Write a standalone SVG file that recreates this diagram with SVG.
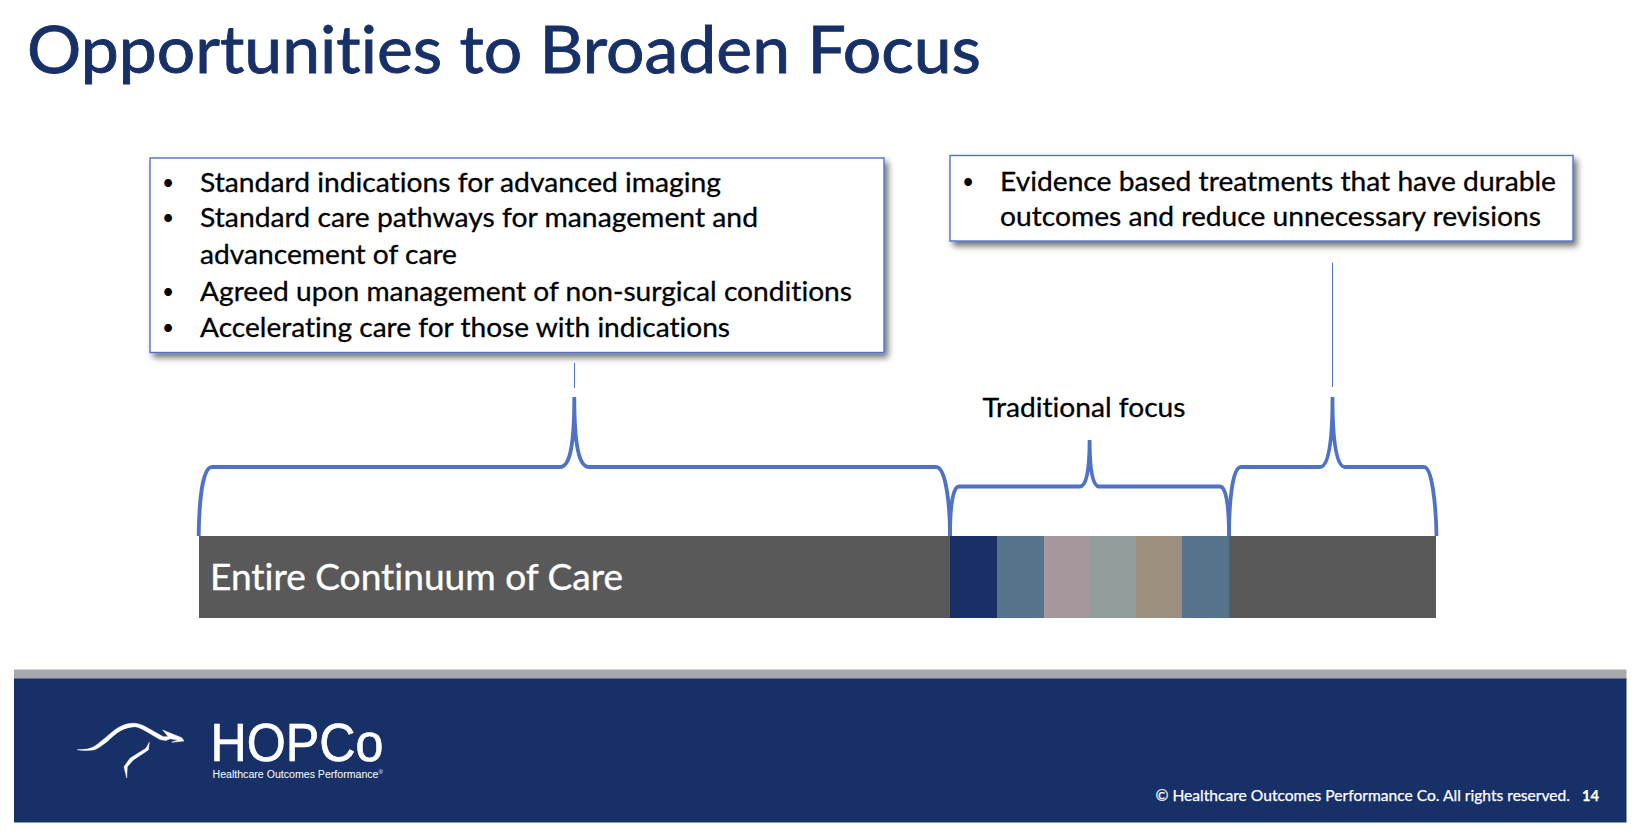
<svg xmlns="http://www.w3.org/2000/svg" width="1640" height="840" viewBox="0 0 1640 840">
<defs>
<style>
text{font-family:"Lato","Carlito","Open Sans",sans-serif;fill:#000;font-variant-ligatures:none}
.body{font-size:27.5px;stroke:#000;stroke-width:.3px}
.bul{font-size:21px}
.box{fill:#fff;stroke:#4f72c4;stroke-width:1.4}
.brace{fill:none;stroke:#4f72c4;stroke-width:3.8}
.thin{fill:none;stroke:#4f72c4;stroke-width:1}
.logo{font-family:"Liberation Sans",Arial,sans-serif;fill:#fff}
.foot{font-size:15px;fill:#fff;stroke:#fff;stroke-width:.25px}
</style>
<filter id="sh" x="-5%" y="-10%" width="110%" height="125%">
<feDropShadow dx="3.5" dy="4.5" stdDeviation="3" flood-color="#000" flood-opacity="0.55"/>
</filter>
</defs>
<rect width="1640" height="840" fill="#fff"/>
<text id="title" x="27" y="72.5" font-size="66" style="fill:#173068;stroke:#173068;stroke-width:.9px" textLength="954" lengthAdjust="spacingAndGlyphs">Opportunities to Broaden Focus</text>

<g id="box-left">
<rect class="box" x="150" y="158" width="734" height="194.5" filter="url(#sh)"/>
<text class="bul" x="162" y="189.5">•</text>
<text class="body" x="200" y="191.7" textLength="521" lengthAdjust="spacingAndGlyphs">Standard indications for advanced imaging</text>
<text class="bul" x="162" y="224.5">•</text>
<text class="body" x="200" y="226.7" textLength="558" lengthAdjust="spacingAndGlyphs">Standard care pathways for management and</text>
<text class="body" x="200" y="264" textLength="257" lengthAdjust="spacingAndGlyphs">advancement of care</text>
<text class="bul" x="162" y="298.5">•</text>
<text class="body" x="200" y="300.7" textLength="652" lengthAdjust="spacingAndGlyphs">Agreed upon management of non-surgical conditions</text>
<text class="bul" x="162" y="334.5">•</text>
<text class="body" x="200" y="336.7" textLength="530" lengthAdjust="spacingAndGlyphs">Accelerating care for those with indications</text>
</g>

<g id="box-right">
<rect class="box" x="950" y="155.5" width="623" height="85.5" filter="url(#sh)"/>
<text class="bul" x="962" y="188.5">•</text>
<text class="body" x="1000" y="190.5" textLength="556" lengthAdjust="spacingAndGlyphs">Evidence based treatments that have durable</text>
<text class="body" x="1000" y="226" textLength="541" lengthAdjust="spacingAndGlyphs">outcomes and reduce unnecessary revisions</text>
</g>

<g id="label-traditional">
<text class="body" x="982.5" y="417" textLength="203" lengthAdjust="spacingAndGlyphs">Traditional focus</text>
</g>

<g id="connectors">
<path class="thin" d="M574.5 363V388"/>
<path class="thin" d="M1332.5 262.5V387"/>
<path class="brace" d="M198.7 536C199 505 202 467 212 467H560C570 467 574.3 445 574.3 397C574.3 445 579 467 589 467H936C946 467 950 505 950 536"/>
<path class="brace" d="M950 536C950 505 953 486.5 959 486.5H1080C1086 486.5 1089.6 472 1089.6 440C1089.6 472 1093 486.5 1099 486.5H1220C1226 486.5 1229 505 1229 536"/>
<path class="brace" d="M1229 536C1229 505 1232 467 1241 467H1320C1328 467 1332.5 445 1332.5 397C1332.5 445 1337 467 1345 467H1424C1432 467 1436 505 1436.5 536"/>
</g>

<g id="continuum-bar">
<rect x="199" y="536" width="1237" height="82" fill="#595959"/>
<rect x="950" y="536" width="47" height="82" fill="#1a2f66"/>
<rect x="997" y="536" width="47" height="82" fill="#56738c"/>
<rect x="1044" y="536" width="46" height="82" fill="#a6979c"/>
<rect x="1090" y="536" width="46" height="82" fill="#929e9b"/>
<rect x="1136" y="536" width="46" height="82" fill="#9c8f7d"/>
<rect x="1182" y="536" width="47" height="82" fill="#56738c"/>
<text x="210" y="590" font-size="36" style="fill:#fff;stroke:#fff;stroke-width:.35px" textLength="413" lengthAdjust="spacingAndGlyphs">Entire Continuum of Care</text>
</g>

<g id="footer">
<rect x="14" y="669.5" width="1612.5" height="9.5" fill="#a8a9ad"/>
<rect x="14" y="678.5" width="1612.5" height="144" fill="#173068"/>
<path fill="#fff" stroke="#fff" stroke-width=".5" d="M77.3 749.7C83 749.6 87 749.4 90 748.3C96 746.5 101 741 106.7 736.7C112 732 116 728.5 120 726.7C125 724 130 723 135 723.3C140 723.7 144 726 148.3 728.3L163.3 736.7L168.3 736.7L162.7 730L181.7 737.7L184 741L171.7 742.3L178 740L170 738.7L166 740.5L160 739.5L146.7 731.7C142 729 138 727 135 726.7C130 727 125 728 120 731C115 734 111 738 106.7 742C101 746 97 749.5 93 750C87 750.8 82 750.5 77.3 749.7Z"/>
<path fill="#fff" stroke="#fff" stroke-width=".5" d="M149.3 742.3L148.3 750L133.3 760L127.3 766.7L126.7 778L124 766.7L130 758.3L146 748.3Z"/>
<text class="logo" x="210.5" y="761" font-size="54" stroke="#fff" stroke-width=".7" textLength="173" lengthAdjust="spacingAndGlyphs">HOPCo</text>
<text class="logo" x="212.5" y="778" font-size="10" textLength="166" lengthAdjust="spacingAndGlyphs">Healthcare Outcomes Performance</text>
<text class="logo" x="378.5" y="774" font-size="6">®</text>
<text class="foot" x="1155.5" y="801" textLength="414.5" lengthAdjust="spacingAndGlyphs">© Healthcare Outcomes Performance Co. All rights reserved.</text>
<text class="foot" x="1582" y="801" font-weight="700" textLength="17" lengthAdjust="spacingAndGlyphs">14</text>
</g>
</svg>
